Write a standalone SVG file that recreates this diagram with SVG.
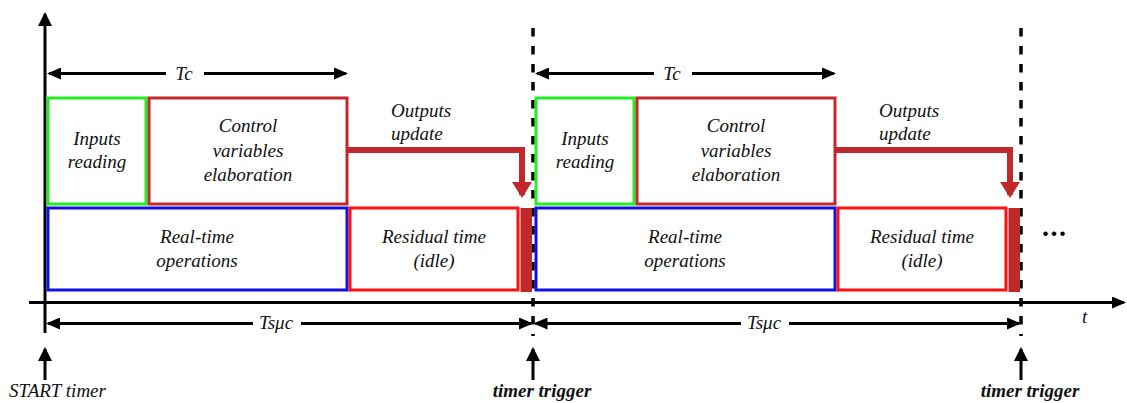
<svg xmlns="http://www.w3.org/2000/svg" width="1127" height="403" viewBox="0 0 1127 403" font-family="Liberation Serif, Times New Roman, serif">
  <style>
    text { font-family: "Liberation Serif", "Times New Roman", Times, serif; }
    .lbl { font-style: italic; font-size: 19px; fill: #111; }
    .mid { text-anchor: middle; }
    .bold { font-weight: bold; }
    .axis { stroke: #000; stroke-width: 3; fill: none; }
    .dim { stroke: #000; stroke-width: 3; fill: none; }
    .dash { stroke: #000; stroke-width: 3.5; stroke-dasharray: 8.5 9.5; fill: none; }
    .box { fill: #fff; stroke-width: 3; }
    .green { stroke: #22EE22; }
    .ctrl { stroke: #C0282C; }
    .blue { stroke: #1010E0; }
    .red { stroke: #FF1010; }
    .out { stroke: #C0282C; stroke-width: 6; fill: none; }
  </style>
  <defs>
    <marker id="arrow" markerUnits="userSpaceOnUse" markerWidth="14" markerHeight="12" refX="12" refY="6" orient="auto-start-reverse">
      <path d="M0,0 L14,6 L0,12 z" fill="#000"/>
    </marker>
    <marker id="arrowBig" markerUnits="userSpaceOnUse" markerWidth="14" markerHeight="14" refX="12" refY="7" orient="auto-start-reverse">
      <path d="M0,0 L14,7 L0,14 z" fill="#000"/>
    </marker>
    <marker id="arrowRed" markerUnits="userSpaceOnUse" markerWidth="16" markerHeight="20" refX="13" refY="10" orient="auto">
      <path d="M0,0 L16,10 L0,20 z" fill="#C0282C"/>
    </marker>
  </defs>

  <!-- axes -->
  <g id="axes">
    <line class="axis" x1="45" y1="333" x2="45" y2="14" marker-end="url(#arrowBig)"/>
    <line class="axis" x1="29" y1="302.5" x2="1124" y2="302.5" marker-end="url(#arrow)"/>
    <text class="lbl" x="1082" y="323">t</text>
  </g>

  <!-- period boundaries -->
  <g id="boundaries">
    <line class="dash" x1="533" y1="28" x2="533" y2="336"/>
    <line class="dash" x1="1021" y1="28" x2="1021" y2="336"/>
  </g>

  <!-- first cycle -->
  <g id="inputs1">
    <rect class="box green" x="48" y="98" width="98" height="106"/>
    <text class="lbl mid" x="97" y="145">Inputs</text>
    <text class="lbl mid" x="97" y="168">reading</text>
  </g>
  <g id="control1">
    <rect class="box ctrl" x="149" y="98" width="198" height="106"/>
    <text class="lbl mid" x="248" y="132">Control</text>
    <text class="lbl mid" x="248" y="157">variables</text>
    <text class="lbl mid" x="248" y="181">elaboration</text>
  </g>
  <g id="realtime1">
    <rect class="box blue" x="48" y="208" width="299" height="82"/>
    <text class="lbl mid" x="197" y="243">Real-time</text>
    <text class="lbl mid" x="197" y="267">operations</text>
  </g>
  <g id="residual1">
    <rect class="box red" x="350" y="208" width="168" height="82"/>
    <text class="lbl mid" x="434" y="243">Residual time</text>
    <text class="lbl mid" x="434" y="267">(idle)</text>
  </g>
  <g id="update1">
    <rect x="520.5" y="208" width="11.5" height="84" fill="#C0282C"/>
    <text class="lbl" x="391" y="117">Outputs</text>
    <text class="lbl" x="391" y="140">update</text>
  </g>

  <!-- second cycle -->
  <g id="inputs2">
    <rect class="box green" x="536" y="98" width="98" height="106"/>
    <text class="lbl mid" x="585" y="145">Inputs</text>
    <text class="lbl mid" x="585" y="168">reading</text>
  </g>
  <g id="control2">
    <rect class="box ctrl" x="637" y="98" width="198" height="106"/>
    <text class="lbl mid" x="736" y="132">Control</text>
    <text class="lbl mid" x="736" y="157">variables</text>
    <text class="lbl mid" x="736" y="181">elaboration</text>
  </g>
  <g id="realtime2">
    <rect class="box blue" x="536" y="208" width="299" height="82"/>
    <text class="lbl mid" x="685" y="243">Real-time</text>
    <text class="lbl mid" x="685" y="267">operations</text>
  </g>
  <g id="residual2">
    <rect class="box red" x="838" y="208" width="168" height="82"/>
    <text class="lbl mid" x="922" y="243">Residual time</text>
    <text class="lbl mid" x="922" y="267">(idle)</text>
  </g>
  <g id="update2">
    <rect x="1008.5" y="208" width="11.5" height="84" fill="#C0282C"/>
    <text class="lbl" x="879" y="117">Outputs</text>
    <text class="lbl" x="879" y="140">update</text>
  </g>

  <g id="continues">
    <text x="1042" y="236" font-weight="bold" font-size="28" letter-spacing="1.5" fill="#000">...</text>
  </g>

  <!-- connectors: output updates, durations, timer events -->
  <g id="connectors">
    <path class="out" d="M347,150 H522 V195" marker-end="url(#arrowRed)"/>
    <path class="out" d="M835,150 H1010 V195" marker-end="url(#arrowRed)"/>

    <!-- Tc spans -->
    <line class="dim" x1="49" y1="73.5" x2="166" y2="73.5" marker-start="url(#arrow)"/>
    <line class="dim" x1="204" y1="73.5" x2="346" y2="73.5" marker-end="url(#arrow)"/>
    <text class="lbl mid" x="184" y="80">Tc</text>
    <line class="dim" x1="537" y1="73.5" x2="654" y2="73.5" marker-start="url(#arrow)"/>
    <line class="dim" x1="692" y1="73.5" x2="834" y2="73.5" marker-end="url(#arrow)"/>
    <text class="lbl mid" x="672" y="80">Tc</text>

    <!-- Tsμc spans -->
    <line class="dim" x1="48" y1="323.5" x2="253" y2="323.5" marker-start="url(#arrow)"/>
    <line class="dim" x1="301" y1="323.5" x2="531" y2="323.5" marker-end="url(#arrow)"/>
    <text class="lbl mid" x="276" y="329">Tsμc</text>
    <line class="dim" x1="535.5" y1="323.5" x2="741" y2="323.5" marker-start="url(#arrow)"/>
    <line class="dim" x1="789" y1="323.5" x2="1019" y2="323.5" marker-end="url(#arrow)"/>
    <text class="lbl mid" x="764" y="329">Tsμc</text>

    <!-- timer events -->
    <line class="dim" x1="45" y1="380" x2="45" y2="349" marker-end="url(#arrowBig)"/>
    <line class="dim" x1="533" y1="380" x2="533" y2="349" marker-end="url(#arrowBig)"/>
    <line class="dim" x1="1021" y1="380" x2="1021" y2="349" marker-end="url(#arrowBig)"/>
  </g>

  <g id="events">
    <text class="lbl" x="9" y="397">START timer</text>
    <text class="lbl mid bold" x="542" y="397">timer trigger</text>
    <text class="lbl mid bold" x="1030" y="397">timer trigger</text>
  </g>
</svg>
